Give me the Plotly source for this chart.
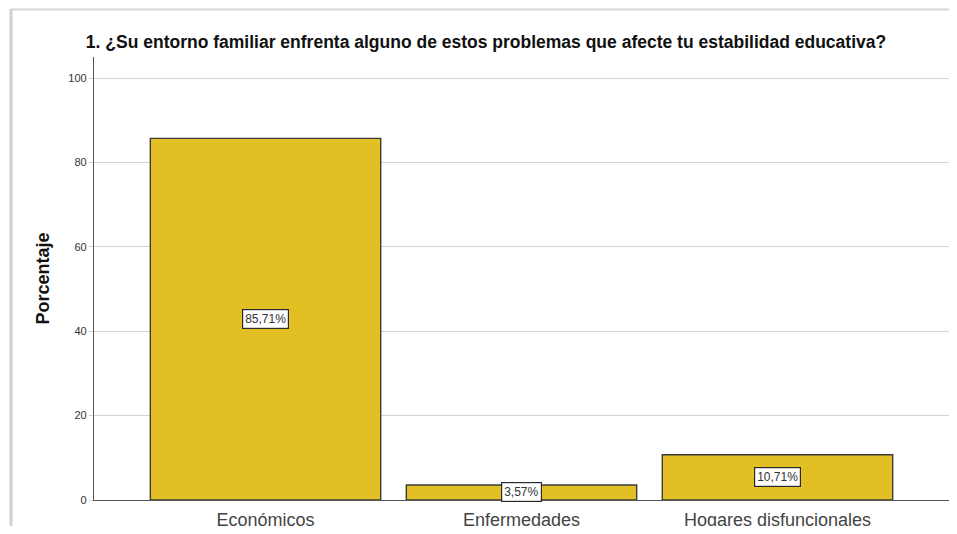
import plotly.graph_objects as go

categories = ["Económicos", "Enfermedades", "Hogares disfuncionales"]
percentages = [85.71, 3.57, 10.71]
y_ticks = [0, 20, 40, 60, 80, 100]

title = "1. ¿Su entorno familiar enfrenta alguno de estos problemas que afecte tu estabilidad educativa?"

# la página tiene 8px de margen, así que la figura es algo más pequeña
W, H = 941, 518
L, R, T, B = 86, 0, 49, 26
pw, ph = W - L - R, H - T - B

fig = go.Figure()

fig.add_trace(go.Bar(x=categories, y=percentages,
                     marker=dict(color="#E2BF23",
                                 line=dict(color="#3c3c3c", width=1.4)),
                     hoverinfo="x+y"))

# etiquetas en recuadro en el centro de cada barra
for cat, val in zip(categories, percentages):
    fig.add_annotation(x=cat, y=val / 2,
                       text=f"{val:.2f}%".replace(".", ","),
                       showarrow=False, bgcolor="white",
                       bordercolor="#2a2a2a", borderwidth=1.2, borderpad=2,
                       font=dict(family="Liberation Sans", size=12, color="#333333"))

# marco de la imagen (sombra gris a la izquierda y arriba)
fig.add_shape(type="line", xref="paper", yref="paper",
              x0=(2 - L) / pw, x1=1 + R / pw, y0=1 + (T - 1.5) / ph, y1=1 + (T - 1.5) / ph,
              line=dict(color="#d6d6d6", width=2))
fig.add_shape(type="line", xref="paper", yref="paper",
              x0=(3 - L) / pw, x1=(3 - L) / pw, y0=1 + (T - 1) / ph, y1=-B / ph,
              line=dict(color="#d0d0d0", width=3))

fig.update_xaxes(range=[-0.67, 2.67], showline=True, linecolor="#555555",
                 linewidth=1.2, ticks="", showgrid=False, ticklabelstandoff=3,
                 automargin=False,
                 tickfont=dict(family="Liberation Sans", size=18, color="#444444"))

fig.update_yaxes(range=[0, 105], tickvals=y_ticks, showline=True,
                 linecolor="#555555", linewidth=1.2, gridcolor="#d4d4d4",
                 gridwidth=1, ticks="outside", ticklen=4, tickcolor="#d4d4d4",
                 zeroline=False,
                 tickfont=dict(family="Liberation Sans", size=11, color="#333333"),
                 title=dict(text="<b>Porcentaje</b>", standoff=14,
                            font=dict(family="Liberation Sans", size=18,
                                      color="#111111")))

fig.update_layout(width=W, height=H,
                  margin=dict(l=L, r=R, t=T, b=B),
                  bargap=0.1, showlegend=False,
                  plot_bgcolor="white", paper_bgcolor="white",
                  title=dict(text=f"<b>{title}</b>", x=0.508, xanchor="center",
                             y=1 - 34 / H, yanchor="middle",
                             font=dict(family="Liberation Sans", size=17.5,
                                       color="#111111")))

fig.write_html("out.html")
